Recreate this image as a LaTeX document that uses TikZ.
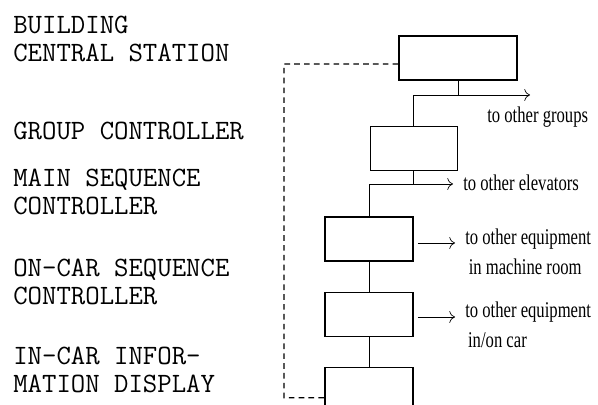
\documentclass[tikz,border=0pt]{standalone}
\usepackage{fontspec}
\usepackage{tikz}
\usetikzlibrary{arrows.meta, positioning, calc}
\newfontfamily\notefont[FakeStretch=0.74]{Liberation Serif}
\tikzset{
  unit/.style={rectangle, draw, line width=1pt, inner sep=0pt,
    minimum width=2.2cm, minimum height=1.1cm},
  levellabel/.style={anchor=base west, inner sep=0pt, align=left,
    font=\ttfamily\fontsize{19.9}{20.6}\selectfont},
  outlabel/.style={anchor=west, inner sep=0pt, align=left,
    font=\notefont\fontsize{16}{21.3}\selectfont},
  link/.style={line width=0.6pt},
  outarrow/.style={-{To[length=4pt]}, line width=0.5pt},
  feedback/.style={dash pattern=on 4pt off 3pt, line width=0.9pt},
}

\begin{document}
\begin{tikzpicture}[x=0.025cm, y=0.025cm]
  \useasboundingbox (0,0) rectangle (598,405);
  % level names
  \node[levellabel] (lstation) at (13,343) {BUILDING\\CENTRAL STATION};
  \node[levellabel] (lgroup) at (13,265) {GROUP CONTROLLER};
  \node[levellabel] (lmain) at (13,190) {MAIN SEQUENCE\\CONTROLLER};
  \node[levellabel] (loncar) at (13,100) {ON-CAR SEQUENCE\\CONTROLLER};
  \node[levellabel] (lincar) at (13,12) {IN-CAR INFOR-\\MATION DISPLAY};
  % units
  \node[unit, minimum width=2.95cm] (station) at (458,347) {};
  \node[unit, minimum width=2.175cm, below=1.125cm of station.south, anchor=north east] (group) {};
  \node[unit, below=1.125cm of group.south, anchor=north east] (main) {};
  \node[unit, below=0.75cm of main] (oncar) {};
  \node[unit, minimum height=1.5cm, below=0.75cm of oncar] (display) {};
  % outputs
  \coordinate (grpout) at (530,310);
  \coordinate (elvout) at (453,221);
  \coordinate (mrout) at (455,162);
  \coordinate (carout) at (455,88);
  \draw[link] (station.south) -- (station.south |- grpout);
  \draw[link] (group.north) -- (group.north |- grpout);
  \draw[outarrow] (group.north |- grpout) -- (grpout);
  \draw[link] (group.south) -- (group.south |- elvout);
  \draw[link] (main.north) -- (main.north |- elvout);
  \draw[outarrow] (main.north |- elvout) -- (elvout);
  \draw[outarrow] ($(main.east |- mrout)+(4,0)$) -- (mrout);
  \draw[outarrow] ($(oncar.east |- carout)+(4,0)$) -- (carout);
  \draw[link] (main) -- (oncar);
  \draw[link] (oncar) -- (display);
  \node[outlabel] (tgroups) at (487,288) {to other groups};
  \node[outlabel] (televators) at (463,222) {to other elevators};
  \node[outlabel] (tmachine) at (465,153) {to other equipment\\\hspace{2.5pt}in machine room};
  \node[outlabel] (tcar) at (465,80) {to other equipment\\\hspace{2pt}in/on car};
  % feedback line
  \coordinate (fbtop) at (284,341);
  \draw[feedback] ([yshift=-0.15cm]station.west) -- (fbtop) -- (fbtop |- display.west) -- (display.west);
\end{tikzpicture}
\end{document}
